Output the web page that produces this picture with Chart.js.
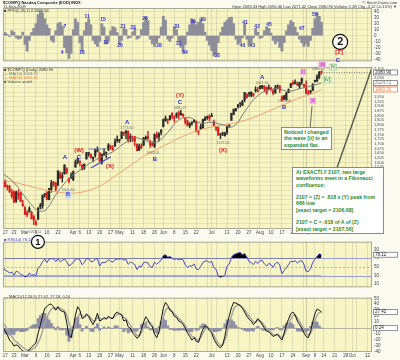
<!DOCTYPE html>
<html><head><meta charset="utf-8">
<script src="https://cdn.jsdelivr.net/npm/chart.js@4.4.1/dist/chart.umd.min.js"></script>
<style>
html,body{margin:0;padding:0;}
body{width:400px;height:360px;position:relative;overflow:hidden;background:#fbfbf2;font-family:"Liberation Sans",Arial,sans-serif;}
canvas{position:absolute;left:0;}
.t{position:absolute;white-space:nowrap;font-size:4px;line-height:4px;color:#333;z-index:5;}
.box{position:absolute;background:#fff;border:1px solid #8a8a8a;color:#1f8a1f;font-weight:bold;font-size:5.2px;line-height:6.3px;padding:1px 2px;z-index:6;white-space:nowrap;}
</style></head><body>
<div class="t" style="left:3px;top:0.5px;font-weight:bold;color:#1a1a1a">$COMPQ Nasdaq Composite (EOD) INDX</div>
<div class="t" style="left:3px;top:4.5px">11-Sep-2009</div>
<div class="t" style="right:3px;top:0.5px">© StockCharts.com</div>
<div class="t" style="right:3px;top:4.5px">Open 2083.43 High 2090.46 Low 2071.42 Close 2080.90 Volume 2.2B Chg -3.12 (-0.15%) ▼</div>
<div class="t" style="left:4px;top:9px">■ PPO(5,35,1) 2.28, 1.64</div>
<div class="t" style="left:4px;top:67.5px">■ $COMPQ (Daily) 2080.90</div>
<div class="t" style="left:4px;top:71.5px;color:#777">— MA(10) 2024.72</div>
<div class="t" style="left:4px;top:75.5px;color:#e8804a">— MA(50) 1990.31</div>
<div class="t" style="left:4px;top:79.5px;color:#555">■ Volume undef</div>
<div class="t" style="left:4px;top:238px;color:#4848c0">■ RSI(14) 78.12</div>
<div class="t" style="left:4px;top:295px">— MACD(12,26,9) 27.42, 27.18, 0.24</div>
<div class="box" style="left:281px;top:127px;">Noticed I changed<br>the wave [ii] to an<br>expanded flat.</div>
<div class="box" style="left:292px;top:167px;width:84px;padding:1px 3px;">At EXACTLY 2107, two large<br>waveforms meet in a Fibonacci<br>confluence:<br>&nbsp;<br>2107 = (Z) = .618 x (Y) peak from<br>666 low<br>[exact target = 2106.68]<br>&nbsp;<br>2107 = C = .618 of A of (Z)<br>[exact target = 2107.56]</div>
<canvas id="cOsc" width="400" height="66" style="top:0;z-index:1"></canvas>
<canvas id="cPrice" width="400" height="250" style="top:0;z-index:2"></canvas>
<canvas id="cRsi" width="400" height="55" style="top:237px;z-index:1"></canvas>
<canvas id="cMacd" width="400" height="67" style="top:293px;z-index:1"></canvas>
<script>
// ---------- categories (2009 trading days) ----------
const monthNames = ['Feb','Mar','Apr','May','Jun','Jul','Aug','Sep','Oct'];
const febDays=[13,17,18,19,20,23,24,25,26,27];
const marDays=[2,3,4,5,6,9,10,11,12,13,16,17,18,19,20,23,24,25,26,27,30,31];
const aprDays=[1,2,3,6,7,8,9,13,14,15,16,17,20,21,22,23,24,27,28,29,30];
const mayDays=[1,4,5,6,7,8,11,12,13,14,15,18,19,20,21,22,26,27,28,29];
const junDays=[1,2,3,4,5,8,9,10,11,12,15,16,17,18,19,22,23,24,25,26,29,30];
const julDays=[1,2,6,7,8,9,10,13,14,15,16,17,20,21,22,23,24,27,28,29,30,31];
const augDays=[3,4,5,6,7,10,11,12,13,14,17,18,19,20,21,24,25,26,27,28,31];
const sepDays=[1,2,3,4,8,9,10,11,14,15,16,17,18,21,22,23,24,25,28,29,30];
const octDays=[1,2,5,6,7,8,9,12,13,14];

// ---------- price series ----------
const opens=[1541,1504,1478,1470,1420,1445,1394,1436,1437,1370,
1359,1335,1339,1333,1311,1281,1297,1363,1369,1427,1440,1402,1455,1495,1488,1480,1541,1520,1540,1568,1516,1520,
1507,1576,1602,1600,1585,1570,1620,1646,1643,1620,1638,1660,1651,1597,1642,1651,1670,1681,1670,1688,1725,
1717,1728,1760,1769,1764,1728,1717,1738,1698,1665,1688,1692,1728,1739,1710,1701,1684,1750,1739,1760,
1791,1822,1829,1830,1861,1839,1847,1867,1856,1850,1837,1821,1795,1808,1818,1820,1770,1778,1786,1826,1840,1848,
1845,1818,1783,1787,1749,1758,1744,1761,1793,1825,1856,1877,1897,1914,1905,1935,1948,1970,1958,1959,1991,1983,
1994,2001,2008,2001,1995,1993,1984,1972,2003,2009,1951,1939,1936,1973,2001,2027,2023,2021,2007,2047,2017,
2006,1965,1975,1985,2034,2036,2056,2083];
const highs=[1546,1508,1480,1478,1455,1449,1447,1454,1441,1398,
1365,1342,1364,1340,1316,1292,1358,1382,1427,1435,1445,1462,1505,1500,1494,1556,1552,1546,1588,1573,1517,1545,
1555,1614,1623,1609,1589,1593,1653,1655,1647,1631,1672,1684,1655,1645,1675,1653,1701,1693,1690,1727,1743,
1724,1764,1763,1771,1769,1752,1741,1740,1700,1698,1701,1734,1743,1767,1718,1710,1753,1763,1760,1775,
1832,1849,1832,1850,1866,1849,1866,1875,1880,1859,1838,1827,1812,1819,1831,1821,1773,1804,1832,1845,1848,1855,
1863,1827,1790,1791,1755,1763,1763,1793,1802,1863,1885,1889,1909,1918,1933,1975,1966,1973,1978,1970,2005,2001,
2010,2012,2010,2004,2015,2003,1989,2012,2015,2010,1956,1959,1975,1993,2022,2036,2042,2031,2029,2052,2018,
2036,1985,1985,2020,2039,2068,2085,2090];
const lows=[1527,1468,1453,1440,1410,1385,1387,1404,1390,1366,
1321,1310,1334,1298,1268,1265,1296,1352,1355,1415,1400,1400,1441,1473,1448,1475,1514,1495,1537,1540,1491,1514,
1504,1574,1594,1582,1561,1563,1617,1633,1622,1603,1629,1656,1604,1591,1640,1626,1663,1671,1664,1686,1709,
1707,1727,1744,1726,1708,1711,1712,1688,1662,1663,1674,1690,1723,1719,1680,1689,1680,1731,1714,1747,
1790,1821,1808,1826,1833,1815,1838,1834,1852,1842,1805,1795,1785,1799,1814,1763,1748,1777,1784,1824,1830,1822,
1845,1796,1770,1746,1727,1743,1740,1750,1787,1825,1855,1874,1890,1896,1903,1924,1944,1953,1950,1952,1976,1977,
1992,1994,1979,1964,1990,1983,1962,1969,1994,1973,1929,1936,1933,1972,1999,2016,2020,2011,1995,2017,2001,
1967,1963,1967,1983,2029,2030,2047,2071];
const closes=[1534,1471,1468,1443,1441,1388,1442,1425,1391,1378,
1323,1321,1354,1300,1294,1269,1358,1372,1426,1432,1404,1462,1491,1483,1457,1556,1517,1529,1587,1545,1502,1529,
1552,1603,1622,1607,1562,1591,1653,1653,1626,1627,1670,1673,1608,1644,1646,1652,1694,1680,1674,1711,1717,
1719,1764,1754,1759,1716,1739,1731,1716,1664,1689,1680,1732,1735,1728,1695,1692,1750,1731,1752,1774,
1829,1837,1826,1850,1849,1842,1860,1853,1862,1859,1816,1796,1808,1808,1827,1766,1765,1792,1830,1838,1844,1835,
1846,1797,1787,1746,1747,1753,1756,1793,1800,1863,1885,1887,1909,1916,1926,1974,1966,1968,1976,1968,1984,1979,
2009,2011,1993,1973,2000,1992,1970,1999,2009,1986,1931,1956,1969,1989,2021,2018,2024,2015,2028,2029,2009,
1969,1967,1983,2019,2038,2060,2084,2080.9];

// moving averages (read at weekly points)
const maIdx =[0,5,10,15,18,20,25,30,35,40,45,50,55,60,65,70,75,80,85,90,95,100,105,110,115,120,125,130,135,140,145];
const maFast=[1540,1493,1417,1350,1340,1353,1444,1513,1559,1600,1631,1657,1701,1733,1716,1710,1761,1827,1840,1810,1815,1802,1793,1871,1947,1983,1994,1980,1994,2008,2024];
const maSlow=[1505,1495,1480,1465,1458,1452,1442,1436,1440,1455,1480,1520,1560,1600,1640,1670,1700,1730,1755,1775,1790,1800,1810,1825,1845,1870,1895,1920,1945,1965,1990];

// top oscillator histogram
const oscHist=[3,5,2,-2,8,6,-4,-6,-5,6, -15,-26,-8,5,12,20,35,43,38,28, 18,12,-8,-11,8,20,22,16,-20,-29,
-38,-30,10,28,22,-12,-26,8,22,28, 18,-8,-14,-18,-10,20,14,-14,-8,8, 15,13,5,-15,-8,12,10,-5,-3,6,
12,-6,-4,10,22,31,25,-6,-14,-18, -12,-4,14,32,26,-6,-10,-4,15,10, -10,-20,-28,-15,6,18,28,24,18,22,
28,20,6,-8,-16,-25,-34,-30,-12,5, 14,22,26,30,31,20,-6,-15,-12,-4, 20,-6,-18,-12,-4,12,6,-5,-3,8,
15,12,4,-8,-14,-10,-20,-26,-12,8, 18,25,22,14,5,-6,-12,-18,-14,-18, -8,12,28,38,32,22];

// RSI
const rsi=[50,42,40,36,38,31,40,38,33,31, 27,28,36,31,32,30, 48,52,62,68,60,68,69,69,62,
69,62,65,68,62,52,56, 60,68,69,66,55,60,69,69,62,62,68,69, 52,60,60,61,67,63,61,67,68,
68,69,66,67,56,61,59,55, 44,52,50,60,61,59,50,49,61,56,61,65, 76,78,72,74,70,67,69,66,68,66,
54,49,52,52,57,45,44,51,60,63,64,60, 63,48,44,29,26,28,31, 52,56,72,78,80,82,83,78,81,73,62,60,55,63,58,
64,65,57,52,58,55,49,58,61,54,34,42,48,55,63,62,64,59,63,64,56, 40,39,46,60,68,74,80,78];

// MACD
const macd=[2,-5,-12,-20,-24,-30,-28,-30,-35,-38, -40,-41,-36,-32,-28,-25,-8,5,20,33, 36,40,40,36,30,36,30,28,27,10,
-12,-16,0,22,36,30,16,18,24,20, 12,6,14,25,12,14,18,15,20,17, 16,24,27,24,22,12,14,2,0,-8,
-12,-17,-14,-2,10,19,14,6,2,-10, -16,-6,14,34,43,38,30,27,20,18, 12,10,6,0,-8,-14,-20,-16,-22,-24,
-12,-2,4,2,-4,-8,-18,-25,-30,-33, -28,-14,6,20,34,43,42,40,38,33, 27,20,15,12,6,10,16,12,6,0,
-5,-6,-10,-14,-12,-10,-16,-20,-8,5, 15,24,27,22,12,6,0,-8,-14,-16, -6,10,24,32,30,27];
const signal=[8,4,-2,-8,-14,-19,-23,-26,-29,-32, -35,-37,-37,-36,-34,-31,-24,-16,-5,8, 18,26,32,34,33,34,33,31,29,22,
10,0,-3,6,18,24,21,19,21,21, 17,12,12,18,16,15,16,16,18,17, 17,20,23,24,23,18,16,10,5,-2,
-7,-12,-13,-8,2,10,12,9,5,-3, -9,-8,3,18,30,34,32,29,24,21, 16,13,9,4,-2,-8,-14,-15,-18,-21,
-16,-9,-2,0,-2,-5,-12,-19,-25,-29, -28,-21,-8,6,20,32,37,39,38,35, 31,25,20,16,11,10,13,12,9,4,
-1,-4,-7,-11,-12,-11,-13,-17,-12,-3, 6,15,21,22,17,11,5,-2,-8,-12, -9,0,12,22,26,27];
const macdHist=[-6,-9,-10,-12,-10,-11,-5,-4,-6,-6, -5,-4,1,4,6,6,16,21,25,25, 18,14,8,2,-3,2,-3,-3,-2,-12,
-22,-16,3,16,18,6,-5,-1,3,-1, -5,-6,2,7,-4,-1,2,-1,2,0, -1,4,4,0,-1,-6,-2,-8,-5,-6,
-5,-5,-1,6,8,9,2,-3,-3,-7, -7,2,11,16,13,4,-2,-2,-4,-3, -4,-3,-3,-4,-6,-6,-6,-1,-4,-3,
4,7,6,2,-2,-3,-6,-6,-5,-4, 0,7,14,14,14,11,5,1,0,-2, -4,-5,-5,-4,-5,0,3,0,-3,-4,
-4,-2,-3,-3,0,1,-3,-3,4,8, 9,9,6,0,-5,-5,-5,-6,-6,-4, 3,10,12,10,4,0];

// tick labels
const oscTicks=[-40,-30,-20,-10,0,10,20,30,40];
const priceTicks=[1250,1275,1300,1325,1350,1375,1400,1425,1450,1475,1500,1525,1550,1575,1600,1625,1650,1675,1700,1725,1750,1775,1800,1825,1850,1875,1900,1925,1950,1975,2000,2025,2050,2075,2100];
const rsiTicks=[10,30,50,70,90];
const macdTicks=[-40,-30,-20,-10,0,10,20,30,40,50];

// annotations (category index, value)
const waveLabels=[
 {t:'A',i:28.2,p:1629,k:'blue'},{t:'B',i:29.6,p:1427,k:'bluebox'},{t:'C',i:34.6,p:1629,k:'blue'},
 {t:'(W)',i:34.6,p:1667,k:'red'},{t:'(X)',i:48.7,p:1581,k:'red'},{t:'A',i:56.5,p:1816,k:'blue'},
 {t:'B',i:69.2,p:1619,k:'blue'},{t:'(Y)',i:80.6,p:1961,k:'red'},{t:'C',i:80.6,p:1923,k:'blue'},
 {t:'(X)',i:100.2,p:1667,k:'red'},{t:'A',i:118,p:2057,k:'blue'},{t:'B',i:128,p:1896,k:'blue'},
 {t:'[i]',i:136.6,p:2083,k:'pink'},{t:'[ii]',i:141,p:1928,k:'pink'},{t:'[iii]',i:145.3,p:2121,k:'pink'},
 {t:'[iv]',i:147.5,p:2041,k:'green'},{t:'[v]',i:150.3,p:2110,k:'green'},{t:'C',i:152.5,p:2147,k:'blue'},
 {t:'[Z]',i:153,p:2190,k:'red'}
];
const priceNotes=[
 {t:'1265.52',i:14.6,p:1229},{t:'1501.80',i:29.6,p:1455},{t:'1773.60',i:56.5,p:1786},{t:'1692.01',i:68.3,p:1651},
 {t:'1880.27',i:80.6,p:1893},{t:'1727.05',i:100.2,p:1704},{t:'2011.31',i:118,p:2027},{t:'1930.84',i:128,p:1926},{t:'2084.02',i:143.5,p:2100}
];
const circles=[{t:'1',i:15.9,p:1176,r:6.5},{t:'2',i:153.5,p:2244,r:7.5}];
const oscNotes=[
 {t:'4',i:26.9,v:-28},{t:'7',i:28.2,v:15},{t:'11',i:38.3,v:32},{t:'16',i:36,v:-29},{t:'15',i:45.5,v:26},
 {t:'19',i:46.9,v:-12},{t:'21',i:54.6,v:15},{t:'20',i:53.3,v:-17},{t:'23',i:59.2,v:14},{t:'26',i:64.7,v:29},
 {t:'28',i:71,v:-17},{t:'31',i:79.2,v:15},{t:'32',i:80,v:-14},{t:'34',i:82.9,v:-28},{t:'36',i:86.5,v:23},
 {t:'39',i:91.1,v:26},{t:'38',i:97.4,v:-34},{t:'41',i:110.2,v:21},{t:'40',i:109,v:-17},{t:'43',i:113.5,v:-17},
 {t:'42',i:115.7,v:15},{t:'45',i:121.1,v:18},{t:'47',i:136,v:12},{t:'50',i:142,v:35}
];
const trendLine={i:[152,168],p:[1569,2107]};
const blueFlat={i:[39,47],p:[1672,1672]};
const blueRise={i:[40,49],p:[1571,1630]};
const leader={i:[139.8,140.7],p:[1784,1902]};

// ---------- build ----------
const FONT='"Liberation Sans", Arial, sans-serif';
const PANEL='#f7f5c4', BORDER='#aaa995', RED='#d42020', BLACK='#2a2a2a';
const monthArrs=[febDays,marDays,aprDays,mayDays,junDays,julDays,augDays,sepDays,octDays];
const dates=[];
monthArrs.forEach((arr,mi)=>arr.forEach((d,k)=>dates.push({name:monthNames[mi],d,first:(k===0&&mi>0),dow:new Date(2009,mi+1,d).getDay()})));
const labels=dates.map(o=>o.name+' '+o.d);
const weekStart=dates.map((o,i)=>i>0&&o.dow<=dates[i-1].dow);
function tickLabel(i){
  const o=dates[i]; if(!o) return null;
  if(o.first) return o.name;
  if(weekStart[i]){
    for(let k=i-2;k<=i+2;k++){ if(k!==i&&dates[k]&&dates[k].first) return ''; }
    return String(o.d);
  }
  return null;
}
function sparse(idx,vals){ const a=new Array(labels.length).fill(null); idx.forEach((ix,j)=>a[ix]=vals[j]); return a; }
function seg(o){ const a=new Array(labels.length).fill(null); a[o.i[0]]=o.p[0]; a[o.i[1]]=o.p[1]; return a; }

const xScale=(show)=>({type:'category',offset:false,
  grid:{offset:false,drawTicks:false,lineWidth:1,color:c=>(dates[c.index]&&dates[c.index].first)?'#cfcc9f':'#dfdcb3'},
  border:{display:false},
  ticks:{autoSkip:false,maxRotation:0,minRotation:0,padding:1.5,font:{size:4.5,family:FONT},color:show?'#444':'rgba(0,0,0,0)',callback:(v,i)=>tickLabel(i)},
  afterFit:s=>{s.height=show?8:0;}});
const yScale=(min,max,ticks,grid,fs)=>({position:'right',min,max,
  grid:{drawTicks:false,color:grid||'rgba(0,0,0,0)'},border:{display:false},
  ticks:{autoSkip:false,font:{size:fs||4.5,family:FONT},color:'#444',padding:2},
  afterBuildTicks:s=>{s.ticks=ticks.map(v=>({value:v}));},
  afterFit:s=>{s.width=28;}});
const base=(top,bottom)=>({responsive:false,animation:false,events:[],
  layout:{padding:{left:3,right:0,top,bottom}},plugins:{legend:{display:false},tooltip:{enabled:false}}});

const panelPlugin={id:'panel',
  beforeDraw(ch){const{ctx,chartArea:a}=ch;ctx.save();ctx.fillStyle=PANEL;ctx.fillRect(a.left,a.top,a.width,a.height);ctx.restore();},
  afterDraw(ch){const{ctx,chartArea:a}=ch;ctx.save();ctx.strokeStyle=BORDER;ctx.lineWidth=1;ctx.strokeRect(a.left+0.5,a.top+0.5,a.width-1,a.height-1);ctx.restore();}};
function txt(ctx,s,x,y,color,size,bold,align){ctx.font=(bold?'bold ':'')+size+'px '+FONT;ctx.fillStyle=color;ctx.textAlign=align||'center';ctx.textBaseline='middle';ctx.fillText(s,x,y);}
const boxPlugin={id:'rbox',afterDraw(ch,args,opts){const{ctx,chartArea:a}=ch;const y=ch.scales.y;(opts.items||[]).forEach(b=>{const py=y.getPixelForValue(b.v);ctx.save();ctx.fillStyle='#fff';ctx.strokeStyle=b.c||'#777';ctx.lineWidth=0.8;ctx.fillRect(a.right+1,py-3,25,6);ctx.strokeRect(a.right+1.5,py-2.5,24,5);txt(ctx,b.t,a.right+3,py,b.c||'#222',4.5,false,'left');ctx.restore();});}};
const levelPlugin={id:'levels',beforeDatasetsDraw(ch,args,opts){const{ctx,chartArea:a}=ch;const y=ch.scales.y;(opts.items||[]).forEach(l=>{const py=Math.round(y.getPixelForValue(l.v))+0.5;ctx.save();ctx.strokeStyle=l.c;ctx.lineWidth=1;ctx.setLineDash(l.d||[]);ctx.beginPath();ctx.moveTo(a.left,py);ctx.lineTo(a.right,py);ctx.stroke();ctx.restore();});}};

// ----- oscillator panel -----
new Chart(document.getElementById('cOsc'),{type:'bar',
  data:{labels,datasets:[{data:oscHist,backgroundColor:'#8e8e9a',barPercentage:1,categoryPercentage:1,borderWidth:0}]},
  options:Object.assign(base(8,0),{scales:{x:xScale(false),y:yScale(-43,46,oscTicks,'rgba(160,155,110,0.18)')}}),
  plugins:[panelPlugin,{id:'oscNotes',afterDraw(ch){const{ctx}=ch;const x=ch.scales.x,y=ch.scales.y;oscNotes.forEach(n=>txt(ctx,n.t,x.getPixelForValue(n.i),y.getPixelForValue(n.v),'#2b2bd0',5,true));}}]});

// ----- price panel -----
const candleColors=closes.map((c,i)=>(i>0&&c<closes[i-1])?RED:BLACK);
const lastI=closes.length-1;
new Chart(document.getElementById('cPrice'),{type:'bar',
  data:{labels,datasets:[
    {type:'line',data:seg(trendLine),borderColor:'#555',borderWidth:1.4,pointRadius:0,spanGaps:true,order:0},
    {type:'line',data:seg(blueFlat),borderColor:'#7b7bd0',borderWidth:1,pointRadius:0,spanGaps:true,order:0},
    {type:'line',data:seg(blueRise),borderColor:'#4a4ad0',borderWidth:1.2,pointRadius:0,spanGaps:true,order:0},
    {type:'line',data:sparse(maIdx,maFast),borderColor:'#7d7d7d',borderWidth:1,pointRadius:0,spanGaps:true,tension:0.4,order:1},
    {type:'line',data:sparse(maIdx,maSlow),borderColor:'#f0a070',borderWidth:1,pointRadius:0,spanGaps:true,tension:0.4,order:2},
    {data:highs.map((h,i)=>[lows[i],h]),backgroundColor:candleColors,barThickness:0.8,grouped:false,order:4},
    {data:opens.map((o,i)=>[o,closes[i]]),backgroundColor:candleColors,barThickness:1.5,minBarLength:1,grouped:false,order:3}
  ]},
  options:Object.assign(base(67,13),{scales:{x:xScale(true),y:yScale(1245,2110,priceTicks,'rgba(160,155,110,0.2)',4)},
    plugins:{legend:{display:false},tooltip:{enabled:false},rbox:{items:[{v:closes[lastI],t:'2080.90'},{v:maFast[maFast.length-1],t:'2024.72',c:'#777'},{v:maSlow[maSlow.length-1],t:'1990.31',c:'#e8804a'}]}}}),
  plugins:[panelPlugin,boxPlugin,{id:'ann',afterDraw(ch){
    const{ctx,chartArea:a}=ch;const x=ch.scales.x,y=ch.scales.y;
    const py=Math.round(y.getPixelForValue(closes[lastI]))+0.5;
    ctx.save();ctx.strokeStyle='#888';ctx.setLineDash([1,1.5]);ctx.lineWidth=1;ctx.beginPath();ctx.moveTo(x.getPixelForValue(lastI),py);ctx.lineTo(a.right,py);ctx.stroke();ctx.restore();
    ctx.save();ctx.strokeStyle='#666';ctx.lineWidth=1;ctx.beginPath();ctx.moveTo(x.getPixelForValue(leader.i[0]),y.getPixelForValue(leader.p[0]));ctx.lineTo(x.getPixelForValue(leader.i[1]),y.getPixelForValue(leader.p[1]));ctx.stroke();ctx.restore();
    priceNotes.forEach(n=>txt(ctx,n.t,x.getPixelForValue(n.i),y.getPixelForValue(n.p),'#6a6a6a',3.6,false));
    waveLabels.forEach(w=>{
      const px=x.getPixelForValue(w.i),pp=y.getPixelForValue(w.p);
      ctx.save();
      if(w.k==='pink'){ctx.font='4.5px '+FONT;const tw=ctx.measureText(w.t).width;ctx.fillStyle='#f3b8ea';ctx.fillRect(px-tw/2-1,pp-3,tw+2,6);txt(ctx,w.t,px,pp,'#b0189a',4.5,false);}
      else if(w.k==='green'){ctx.font='4.5px '+FONT;const tw=ctx.measureText(w.t).width;ctx.strokeStyle='#9c9';ctx.lineWidth=0.7;ctx.fillStyle='#eef6dd';ctx.fillRect(px-tw/2-1,pp-3,tw+2,6);ctx.strokeRect(px-tw/2-1,pp-3,tw+2,6);txt(ctx,w.t,px,pp,'#1e7a1e',4.5,false);}
      else if(w.k==='bluebox'){ctx.fillStyle='#c9d6f4';ctx.fillRect(px-3,pp-3.5,6,7);txt(ctx,w.t,px,pp,'#2b2bd0',5.5,true);}
      else txt(ctx,w.t,px,pp,w.k==='red'?'#e01818':'#2b2bd0',6,true);
      ctx.restore();});
    circles.forEach(c=>{const cx=x.getPixelForValue(c.i),cy=y.getPixelForValue(c.p);ctx.save();ctx.fillStyle='rgba(255,255,255,0.85)';ctx.strokeStyle='#111';ctx.lineWidth=1.2;ctx.beginPath();ctx.arc(cx,cy,c.r,0,Math.PI*2);ctx.fill();ctx.stroke();txt(ctx,c.t,cx,cy+0.5,'#111',c.r*1.45,true);ctx.restore();});
  }}]});

// ----- RSI panel -----
new Chart(document.getElementById('cRsi'),{type:'line',
  data:{labels,datasets:[
    {data:rsi,borderColor:'#4848c0',borderWidth:1,pointRadius:0,fill:{target:{value:70},above:'#000',below:'rgba(0,0,0,0)'}},
    {data:rsi,borderColor:'rgba(0,0,0,0)',borderWidth:0,pointRadius:0,fill:{target:{value:30},above:'rgba(0,0,0,0)',below:'#000'}}]},
  options:Object.assign(base(0,0),{scales:{x:xScale(false),y:yScale(3,108,rsiTicks,null)},
    plugins:{legend:{display:false},tooltip:{enabled:false},levels:{items:[{v:70,c:'#9b9bd4'},{v:30,c:'#9b9bd4'},{v:50,c:'#b8b6a0',d:[2,2]}]},rbox:{items:[{v:rsi[rsi.length-1],t:'78.12'}]}}}),
  plugins:[panelPlugin,levelPlugin,boxPlugin]});

// ----- MACD panel -----
new Chart(document.getElementById('cMacd'),{type:'bar',
  data:{labels,datasets:[
    {type:'line',data:macd,borderColor:'#111',borderWidth:1,pointRadius:0,order:0},
    {type:'line',data:signal,borderColor:'#a2a2a2',borderWidth:1.4,pointRadius:0,order:1},
    {data:macdHist,backgroundColor:'#8e8ea8',barPercentage:1,categoryPercentage:1,borderWidth:0,order:2}]},
  options:Object.assign(base(2,0),{scales:{x:xScale(true),y:yScale(-40,51,macdTicks,null)},
    plugins:{legend:{display:false},tooltip:{enabled:false},levels:{items:[{v:0,c:'#b8b6a0'}]},rbox:{items:[{v:macd[macd.length-1],t:'27.42'},{v:0,t:'0.24'}]}}}),
  plugins:[panelPlugin,levelPlugin,boxPlugin]});
</script>
</body></html>
